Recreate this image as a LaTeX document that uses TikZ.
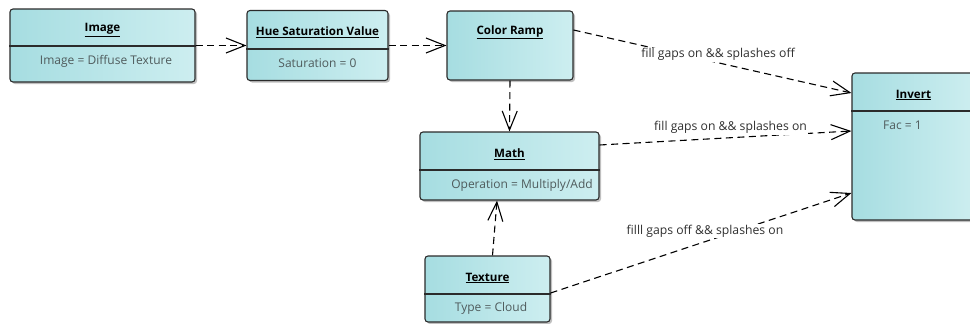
\documentclass[tikz,border=0pt]{standalone}
\usepackage{fontspec}
\setmainfont{Open Sans}
\usetikzlibrary{arrows.meta,shadows}
\definecolor{boxL}{HTML}{A6DDE1}
\definecolor{boxR}{HTML}{CDEEF0}
\definecolor{edgeC}{HTML}{2B2B2B}
\definecolor{attrC}{HTML}{4F5B5C}
\definecolor{lblC}{HTML}{303030}
\tikzset{
  cls/.style={draw=edgeC, line width=1.1pt, rounded corners=3pt, left color=boxL, right color=boxR,
    drop shadow={shadow xshift=2pt, shadow yshift=-2pt, opacity=0.25, fill=black}},
  ttl/.style={font=\fontsize{11.6}{13}\selectfont\bfseries, text=black, inner sep=0pt},
  attr/.style={font=\fontsize{12}{14}\selectfont, text=attrC, inner sep=0pt},
  divline/.style={draw=edgeC, line width=1.1pt},
  dep/.style={draw=black, line width=1.1pt, dash pattern=on 7pt off 4.5pt,
    -{Straight Barb[length=19pt, width=15pt, line width=1.1pt]}},
  lbl/.style={font=\fontsize{12.2}{14}\selectfont, text=lblC, fill=white, inner sep=1pt}
}
\newcommand{\ttltext}[1]{\underline{#1}}
\begin{document}
\begin{tikzpicture}[x=1pt, y=-1pt]
\useasboundingbox (0,0) rectangle (970,324);
% boxes
\node[cls, minimum width=185pt, minimum height=73pt] (img) at (102.5,45.5) {};
\node[cls, minimum width=141pt, minimum height=70pt] (hsv) at (317.5,45.5) {};
\node[cls, minimum width=126pt, minimum height=69pt] (cr) at (510,45.5) {};
\node[cls, minimum width=123pt, minimum height=147pt] (inv) at (913.5,146.5) {};
\node[cls, minimum width=179pt, minimum height=68pt] (math) at (509.5,166) {};
\node[cls, minimum width=125pt, minimum height=66pt] (tex) at (487.5,289) {};
% dividers
\draw[divline] (img.west |- 0,46) -- (img.east |- 0,46);
\draw[divline] (hsv.west |- 0,49) -- (hsv.east |- 0,49);
\draw[divline] (inv.west |- 0,111) -- (inv.east |- 0,111);
\draw[divline] (math.west |- 0,170) -- (math.east |- 0,170);
\draw[divline] (tex.west |- 0,294) -- (tex.east |- 0,294);
% titles
\node[ttl] (imgT) at (102.5,30) {\ttltext{Image}};
\node[ttl] (hsvT) at (317.5,32) {\ttltext{Hue Saturation Value}};
\node[ttl] (crT) at (510,32) {\ttltext{Color Ramp}};
\node[ttl] (invT) at (913.5,95) {\ttltext{Invert}};
\node[ttl] (mathT) at (509.5,154) {\ttltext{Math}};
\node[ttl] (texT) at (487.5,278) {\ttltext{Texture}};
% attributes
\node[attr] (imgA) at (106,61) {Image = Diffuse Texture};
\node[attr] (hsvA) at (317.5,63) {Saturation = 0};
\node[attr, anchor=west] (invA) at (883,125) {Fac = 1};
\node[attr] (mathA) at (522,185) {Operation = Multiply/Add};
\node[attr] (texA) at (491,308) {Type = Cloud};
% connectors
\draw[dep] (img.east) -- (img.east -| hsv.west);
\draw[dep] (hsv.east) -- (hsv.east -| cr.west);
\draw[dep] ([yshift=15.5pt]cr.east) -- ([yshift=53.5pt]inv.west)
  node[lbl, pos=0.52, yshift=8pt] (l1) {fill gaps on \&\& splashes off};
\draw[dep] (cr.south) -- (math.north);
\draw[dep] ([yshift=21pt]math.east) -- ([yshift=15.5pt]inv.west)
  node[lbl, pos=0.52, yshift=10pt] (l2) {fill gaps on \&\& splashes on};
\draw[dep] ([xshift=5pt]tex.north) -- ([xshift=-12.5pt]math.south);
\draw[dep] ([yshift=-4pt]tex.east) -- ([yshift=-46.5pt]inv.west)
  node[lbl, pos=0.5, xshift=4pt, yshift=12pt] (l3) {filll gaps off \&\& splashes on};
\end{tikzpicture}
\end{document}
